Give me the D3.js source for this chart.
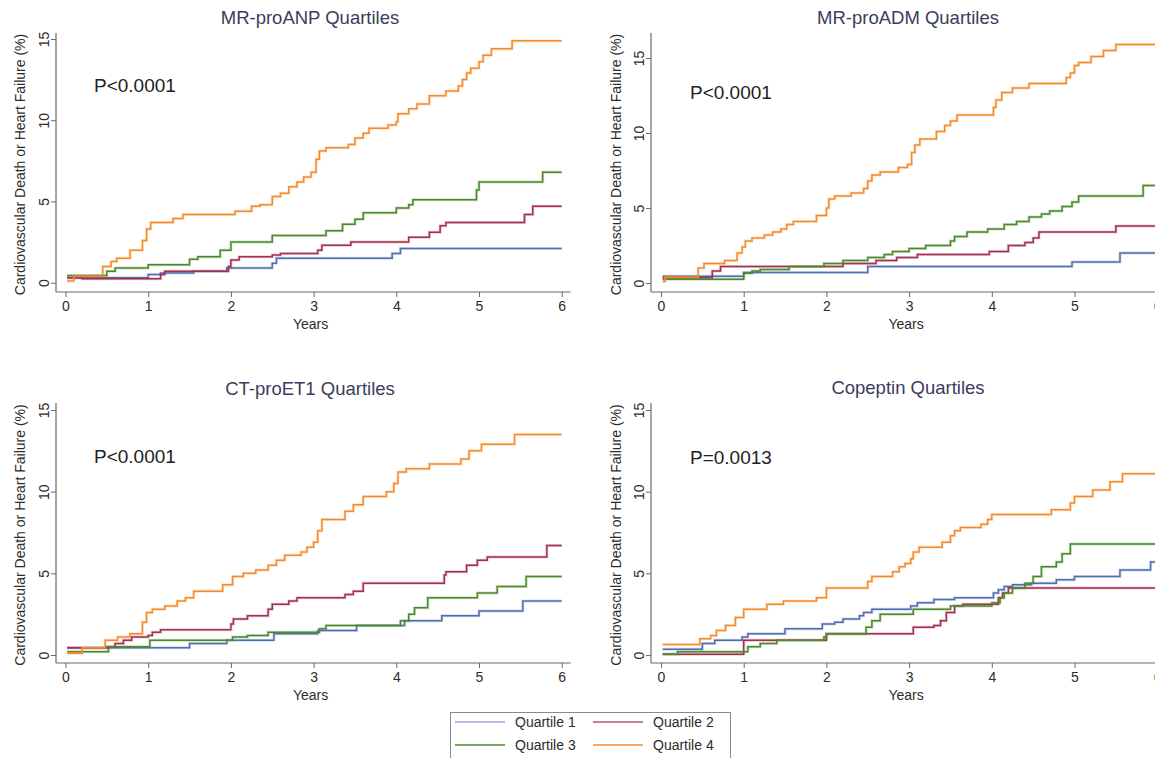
<!DOCTYPE html>
<html>
<head>
<meta charset="utf-8">
<script src="https://cdn.jsdelivr.net/npm/d3@7"></script>
<style>
  html, body { margin: 0; padding: 0; background: #fff; }
  svg { display: block; font-family: "Liberation Sans", Arial, sans-serif; }
</style>
</head>
<body>
<svg id="chart" width="1155" height="758"></svg>
<script>
// ---------------- DATA ----------------
const quartiles = ["Quartile 1", "Quartile 2", "Quartile 3", "Quartile 4"];
const xTicks = [0, 1, 2, 3, 4, 5, 6];
const yTicks = [0, 5, 10, 15];
const panelTitles = ["MR-proANP Quartiles", "MR-proADM Quartiles", "CT-proET1 Quartiles", "Copeptin Quartiles"];
const pValues = ["P<0.0001", "P<0.0001", "P<0.0001", "P=0.0013"];
const yAxisTitle = "Cardiovascular Death or Heart Failure (%)";
const xAxisTitle = "Years";

// MR-proANP: [years, cumulative %]
const anpQ1 = [[0.02,0.3],[1.0,0.5],[1.15,0.6],[1.55,0.7],[1.95,0.9],[2.5,1.2],[2.55,1.5],[3.95,1.8],[4.05,2.1],[6,2.1]];
const anpQ2 = [[0.02,0.3],[0.2,0.25],[1.15,0.5],[1.2,0.7],[1.97,1.0],[2.0,1.4],[2.1,1.6],[2.5,1.7],[2.6,1.8],[3.05,2.0],[3.1,2.3],[3.45,2.5],[4.15,2.8],[4.4,3.1],[4.53,3.5],[4.6,3.7],[5.55,4.2],[5.65,4.7],[6,4.7]];
const anpQ3 = [[0.02,0.45],[0.5,0.7],[0.6,0.9],[1.0,1.1],[1.5,1.45],[1.6,1.6],[1.87,2.0],[2.0,2.5],[2.5,2.9],[3.15,3.2],[3.35,3.6],[3.5,3.9],[3.6,4.3],[4.0,4.6],[4.15,4.8],[4.2,5.1],[4.97,5.7],[5.0,6.2],[5.77,6.8],[6,6.8]];
const anpQ4 = [[0.02,0.1],[0.1,0.4],[0.45,1.0],[0.55,1.3],[0.62,1.5],[0.78,2.0],[0.93,2.6],[0.98,3.3],[1.03,3.7],[1.3,3.95],[1.42,4.2],[2.05,4.4],[2.25,4.7],[2.35,4.8],[2.5,5.3],[2.6,5.5],[2.7,5.9],[2.8,6.2],[2.88,6.5],[2.97,6.8],[3.03,7.6],[3.07,8.1],[3.15,8.3],[3.42,8.5],[3.5,8.9],[3.6,9.2],[3.67,9.5],[3.9,9.7],[4.0,9.9],[4.02,10.4],[4.15,10.7],[4.25,11.0],[4.4,11.5],[4.6,11.8],[4.75,12.1],[4.8,12.5],[4.85,12.9],[4.9,13.2],[5.0,13.6],[5.05,14.0],[5.15,14.4],[5.4,14.9],[6,14.9]];

// MR-proADM
const admQ1 = [[0.02,0.45],[1.0,0.7],[2.5,1.1],[4.97,1.4],[5.55,2.0],[6,2.0]];
const admQ2 = [[0.02,0.35],[0.62,0.8],[0.72,1.1],[2.2,1.3],[2.6,1.5],[2.85,1.7],[3.1,1.9],[3.97,2.1],[4.2,2.5],[4.4,2.7],[4.5,3.0],[4.57,3.4],[5.5,3.8],[6,3.8]];
const admQ3 = [[0.02,0.25],[1.0,0.65],[1.1,0.8],[1.2,0.9],[1.55,1.1],[1.97,1.3],[2.2,1.5],[2.5,1.7],[2.7,1.9],[2.8,2.1],[3.0,2.3],[3.2,2.5],[3.5,2.8],[3.55,3.1],[3.7,3.4],[3.95,3.6],[4.15,3.9],[4.3,4.1],[4.45,4.4],[4.6,4.6],[4.7,4.8],[4.85,5.1],[4.97,5.4],[5.05,5.8],[5.83,6.5],[6,6.5]];
const admQ4 = [[0.02,0.1],[0.05,0.4],[0.45,1.0],[0.52,1.3],[0.77,1.5],[0.92,2.0],[0.98,2.4],[1.02,2.8],[1.1,3.0],[1.25,3.2],[1.35,3.4],[1.45,3.6],[1.52,3.9],[1.6,4.1],[1.88,4.5],[2.0,5.0],[2.03,5.6],[2.1,5.8],[2.3,6.0],[2.45,6.3],[2.5,6.8],[2.55,7.2],[2.65,7.4],[2.87,7.7],[2.98,7.9],[3.03,8.7],[3.07,9.2],[3.13,9.6],[3.33,10.1],[3.43,10.5],[3.5,10.8],[3.58,11.2],[4.02,11.7],[4.05,12.2],[4.12,12.7],[4.25,13.0],[4.45,13.3],[4.9,13.7],[4.95,14.0],[5.0,14.5],[5.05,14.7],[5.2,15.1],[5.35,15.5],[5.5,15.9],[6,15.9]];

// CT-proET1
const et1Q1 = [[0.02,0.45],[1.5,0.7],[1.95,0.9],[2.52,1.3],[3.05,1.5],[3.52,1.8],[4.1,2.1],[4.55,2.4],[5.0,2.7],[5.53,3.3],[6,3.3]];
const et1Q2 = [[0.02,0.45],[0.5,0.5],[0.6,0.7],[0.7,0.9],[0.8,1.1],[1.0,1.2],[1.05,1.4],[1.15,1.55],[2.0,1.9],[2.03,2.2],[2.2,2.4],[2.45,2.8],[2.5,3.1],[2.7,3.3],[2.8,3.5],[3.38,3.7],[3.48,3.9],[3.6,4.4],[4.58,4.9],[4.6,5.1],[4.85,5.5],[4.98,5.8],[5.1,6.0],[5.82,6.7],[6,6.7]];
const et1Q3 = [[0.02,0.2],[0.52,0.5],[1.02,0.9],[2.02,1.1],[2.2,1.2],[2.45,1.4],[3.07,1.6],[3.15,1.8],[4.05,2.1],[4.15,2.5],[4.22,2.9],[4.38,3.5],[4.98,3.8],[5.22,4.2],[5.57,4.8],[6,4.8]];
const et1Q4 = [[0.02,0.1],[0.2,0.45],[0.48,0.9],[0.63,1.1],[0.78,1.3],[0.93,2.0],[0.98,2.6],[1.05,2.8],[1.2,3.0],[1.35,3.3],[1.45,3.5],[1.55,3.9],[1.9,4.3],[2.02,4.8],[2.15,5.0],[2.3,5.2],[2.45,5.5],[2.55,5.8],[2.65,6.1],[2.85,6.3],[2.92,6.6],[3.0,6.9],[3.05,7.6],[3.1,8.3],[3.38,8.8],[3.48,9.2],[3.6,9.7],[3.88,10.0],[3.97,10.5],[4.02,11.2],[4.12,11.4],[4.4,11.7],[4.78,12.0],[4.88,12.5],[5.03,12.9],[5.43,13.5],[6,13.5]];

// Copeptin
const copQ1 = [[0.02,0.35],[0.5,0.7],[0.65,0.9],[0.98,1.1],[1.05,1.3],[1.5,1.6],[1.95,1.9],[2.1,2.0],[2.2,2.2],[2.4,2.4],[2.45,2.6],[2.55,2.8],[3.02,3.0],[3.1,3.2],[3.3,3.4],[3.55,3.5],[4.02,3.8],[4.08,4.0],[4.15,4.2],[4.25,4.3],[4.48,4.4],[4.78,4.6],[5.0,4.8],[5.55,5.2],[5.92,5.7],[6,5.7]];
const copQ2 = [[0.02,0.05],[1.0,0.9],[2.0,1.3],[3.05,1.7],[3.3,1.8],[3.38,2.1],[3.45,2.6],[3.55,3.0],[3.65,3.1],[4.08,3.5],[4.13,3.8],[4.2,4.1],[6,4.1]];
const copQ3 = [[0.02,0.05],[0.2,0.2],[1.05,0.5],[1.2,0.7],[1.4,0.9],[1.97,1.1],[2.0,1.3],[2.48,1.7],[2.55,2.1],[2.65,2.5],[3.05,2.8],[3.5,3.0],[4.0,3.2],[4.1,3.5],[4.15,3.8],[4.25,4.1],[4.4,4.4],[4.5,4.8],[4.6,5.4],[4.78,5.7],[4.85,6.2],[4.95,6.8],[6,6.8]];
const copQ4 = [[0.02,0.65],[0.47,1.0],[0.6,1.2],[0.67,1.5],[0.78,1.8],[0.9,2.3],[1.0,2.8],[1.28,3.1],[1.48,3.3],[1.88,3.5],[2.0,4.1],[2.5,4.5],[2.55,4.8],[2.8,5.1],[2.88,5.4],[2.95,5.6],[3.02,5.9],[3.05,6.3],[3.12,6.6],[3.4,6.9],[3.5,7.3],[3.55,7.6],[3.62,7.8],[3.87,8.0],[3.95,8.3],[4.0,8.6],[4.72,8.9],[4.95,9.3],[5.0,9.7],[5.22,10.1],[5.43,10.6],[5.58,11.1],[6,11.1]];

const panelSeries = [
  [anpQ1, anpQ2, anpQ3, anpQ4],
  [admQ1, admQ2, admQ3, admQ4],
  [et1Q1, et1Q2, et1Q3, et1Q4],
  [copQ1, copQ2, copQ3, copQ4]
];

// ---------------- STYLE / LAYOUT ----------------
const colors = ["#4f6fb3", "#a3304e", "#4a8a2c", "#f68b2c"];
const legendColors = ["#9aa3dc", "#c0507a", "#4a8a2c", "#f68b2c"];
const axisColor = "#6b6b6b";
const textColor = "#2c2c2c";
const titleColor = "#3a3d5c";

const layouts = [
  { x0: 65.5, xs: 82.7, y0: 282.7, y15: 39,  axX: 56,  axY: 292, axTop: 33,  titleX: 310, titleY: 24,  pX: 94,  pY: 92,  ytX: 20 },
  { x0: 661,  xs: 82.7, y0: 283,   y15: 58,  axX: 651, axY: 292, axTop: 33,  titleX: 908, titleY: 24,  pX: 690, pY: 99,  ytX: 616 },
  { x0: 65.5, xs: 82.7, y0: 655,   y15: 410, axX: 56,  axY: 663, axTop: 403, titleX: 310, titleY: 395, pX: 94,  pY: 463, ytX: 20 },
  { x0: 661,  xs: 82.7, y0: 655,   y15: 410, axX: 651, axY: 663, axTop: 403, titleX: 908, titleY: 394, pX: 690, pY: 464, ytX: 616 }
];

const svg = d3.select("#chart");

layouts.forEach((L, i) => {
  const g = svg.append("g");
  const x = d3.scaleLinear().domain([0, 6]).range([L.x0, L.x0 + 6 * L.xs]);
  const y = d3.scaleLinear().domain([0, 15]).range([L.y0, L.y15]);

  // axis lines
  g.append("line").attr("x1", L.axX).attr("x2", L.axX).attr("y1", L.axTop).attr("y2", L.axY)
    .attr("stroke", axisColor).attr("stroke-width", 1.2);
  g.append("line").attr("x1", L.axX).attr("x2", x(6) + 9).attr("y1", L.axY).attr("y2", L.axY)
    .attr("stroke", axisColor).attr("stroke-width", 1.2);

  // x axis
  const xa = g.append("g").attr("transform", `translate(0,${L.axY})`)
    .call(d3.axisBottom(x).tickValues(xTicks).tickSize(5).tickPadding(4).tickFormat(d3.format("d")));
  xa.select(".domain").remove();
  xa.selectAll("line").attr("stroke", axisColor);
  xa.selectAll("text").attr("fill", textColor).style("font-size", "14px");

  // y axis
  const ya = g.append("g").attr("transform", `translate(${L.axX},0)`)
    .call(d3.axisLeft(y).tickValues(yTicks).tickSize(5).tickFormat(d3.format("d")));
  ya.select(".domain").remove();
  ya.selectAll("line").attr("stroke", axisColor);
  ya.selectAll("text")
    .attr("fill", textColor).style("font-size", "14px")
    .attr("x", null)
    .attr("text-anchor", "middle")
    .attr("transform", "translate(-12,0) rotate(-90)")
    .attr("dy", "0.35em");

  // axis titles
  g.append("text").attr("x", (x(0) + x(6)) / 2 - 3).attr("y", L.axY + 37)
    .attr("text-anchor", "middle").attr("fill", textColor).style("font-size", "14px")
    .text(xAxisTitle);
  g.append("text")
    .attr("transform", `translate(${L.ytX + 5},${(L.axTop + L.axY) / 2 + 2}) rotate(-90)`)
    .attr("text-anchor", "middle").attr("fill", textColor).style("font-size", "14px")
    .text(yAxisTitle);

  // panel title
  g.append("text").attr("x", L.titleX).attr("y", L.titleY).attr("text-anchor", "middle")
    .attr("fill", titleColor).style("font-size", "18.5px").text(panelTitles[i]);

  // p value
  g.append("text").attr("x", L.pX).attr("y", L.pY).attr("fill", "#222")
    .style("font-size", "19px").text(pValues[i]);

  // step lines
  const line = d3.line().x(d => x(d[0])).y(d => y(d[1])).curve(d3.curveStepAfter);
  panelSeries[i].forEach((s, k) => {
    g.append("path").datum(s).attr("d", line).attr("fill", "none")
      .attr("stroke", colors[k]).attr("stroke-width", 3).attr("stroke-opacity", 0.25);
    g.append("path").datum(s).attr("d", line).attr("fill", "none")
      .attr("stroke", colors[k]).attr("stroke-width", 1.5);
  });
});

// ---------------- LEGEND ----------------
const lg = svg.append("g");
lg.append("rect").attr("x", 450.5).attr("y", 712.5).attr("width", 280).attr("height", 46)
  .attr("fill", "#fff").attr("stroke", "#8a8a8a").attr("stroke-width", 1);
const legendPos = [[455, 722], [593, 722], [455, 745], [593, 745]];
quartiles.forEach((q, k) => {
  const [lx, ly] = legendPos[k];
  lg.append("line").attr("x1", lx).attr("x2", lx + 50).attr("y1", ly).attr("y2", ly)
    .attr("stroke", legendColors[k]).attr("stroke-width", 1.5);
  lg.append("text").attr("x", lx + 60).attr("y", ly + 5).attr("fill", textColor)
    .style("font-size", "14px").text(q);
});
</script>
</body>
</html>
